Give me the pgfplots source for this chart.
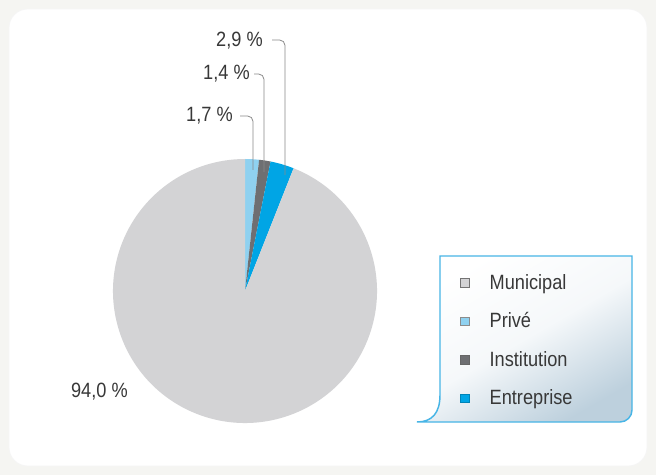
\documentclass[border=0pt]{standalone}
\usepackage{fontspec}
\setmainfont{Liberation Sans}[FakeStretch=0.88]
\usepackage{pgfplots}
\pgfplotsset{compat=1.18}
\usepackage{pgfplotstable}
\definecolor{municipal}{HTML}{D3D3D5}
\definecolor{prive}{HTML}{8FD1F0}
\definecolor{institution}{HTML}{6E6F72}
\definecolor{entreprise}{HTML}{00A5E5}
\definecolor{legline}{HTML}{47B5E6}
\definecolor{leader}{HTML}{8A8A8A}
\definecolor{txt}{HTML}{383838}
\definecolor{bg}{HTML}{F5F5F2}
\definecolor{legshade}{HTML}{BDD0DD}

\pgfplotstableread{
name value
Prive 1.7
Institution 1.4
Entreprise 2.9
Municipal 94.0
}\pietable

\begin{document}
\begin{tikzpicture}
\pgfplotstablegetelem{0}{value}\of\pietable \let\vA\pgfplotsretval
\pgfplotstablegetelem{1}{value}\of\pietable \let\vB\pgfplotsretval
\pgfplotstablegetelem{2}{value}\of\pietable \let\vC\pgfplotsretval
\pgfplotstablegetelem{3}{value}\of\pietable \let\vD\pgfplotsretval
\pgfmathsetmacro\aA{90}
\pgfmathsetmacro\aB{\aA-3.6*\vA}
\pgfmathsetmacro\aC{\aB-3.6*\vB}
\pgfmathsetmacro\aD{\aC-3.6*\vC}
\pgfmathsetmacro\aE{\aD-3.6*\vD}
\pgfkeys{/pgf/number format/.cd, fixed, fixed zerofill, precision=1, use comma, assume math mode=true}
\begin{axis}[
  hide axis, scale only axis,
  width=492pt, height=356.25pt,
  xmin=0, xmax=656, ymin=0, ymax=475,
  clip=false,
  legend cell align=left,
  legend style={draw=none, fill=none, inner sep=0pt, outer sep=0pt,
    at={(axis cs:460,135.5)}, anchor=west,
    font=\fontsize{15.5}{18}\selectfont, text=txt,
    row sep=17.9pt,
    nodes={inner sep=0pt, text height=11pt, text depth=0pt, anchor=base west}},
  legend image code/.code={\draw[#1, line width=0.5pt] (0pt,1.5pt) rectangle (6.5pt,8pt); \path[draw=none, fill=none] (0pt,0pt) -- (22pt,0pt);},
]
% background card
\fill[bg] (axis cs:0,0) rectangle (axis cs:656,475);
\fill[white, draw=black!4, line width=0.6pt, rounded corners=14pt] (axis cs:9,9) rectangle (axis cs:647,466);

% pie slices (clockwise from top)
\fill[prive] (axis cs:245,184) -- ++(\aA:99pt) arc[start angle=\aA, end angle=\aB, radius=99pt] -- cycle;
\fill[institution] (axis cs:245,184) -- ++(\aB:99pt) arc[start angle=\aB, end angle=\aC, radius=99pt] -- cycle;
\fill[entreprise] (axis cs:245,184) -- ++(\aC:99pt) arc[start angle=\aC, end angle=\aD, radius=99pt] -- cycle;
\fill[municipal] (axis cs:245,184) -- ++(\aD:99pt) arc[start angle=\aD, end angle=\aE, radius=99pt] -- cycle;

% leader lines
\draw[leader, line width=0.6pt, rounded corners=4pt] (axis cs:253,305) |- (axis cs:240,359);
\draw[leader, line width=0.6pt, rounded corners=4pt] (axis cs:264,303) |- (axis cs:254,401);
\draw[leader, line width=0.6pt, rounded corners=4pt] (axis cs:285,300) |- (axis cs:272,435);

% value labels
\node[anchor=base east, inner sep=0pt, text=txt, font=\fontsize{15.5}{18}\selectfont] at (axis cs:233,353) {\pgfmathprintnumber{\vA} \%};
\node[anchor=base east, inner sep=0pt, text=txt, font=\fontsize{15.5}{18}\selectfont] at (axis cs:250,395) {\pgfmathprintnumber{\vB} \%};
\node[anchor=base east, inner sep=0pt, text=txt, font=\fontsize{15.5}{18}\selectfont] at (axis cs:263,428) {\pgfmathprintnumber{\vC} \%};
\node[anchor=base east, inner sep=0pt, text=txt, font=\fontsize{15.5}{18}\selectfont] at (axis cs:128,78) {\pgfmathprintnumber{\vD} \%};

% legend box
\shade[top color=white, bottom color=legshade, middle color=white!85!legshade, shading angle=30]
  (axis cs:440,219) -- (axis cs:632,219) [rounded corners=9pt] -- (axis cs:632,53) [sharp corners] -- (axis cs:417,53)
  .. controls (axis cs:432,53) and (axis cs:440,62) .. (axis cs:440,80) -- cycle;
\draw[legline, line width=1.1pt]
  (axis cs:440,219) -- (axis cs:632,219) [rounded corners=9pt] -- (axis cs:632,53) [sharp corners] -- (axis cs:417,53)
  .. controls (axis cs:432,53) and (axis cs:440,62) .. (axis cs:440,80) -- cycle;

\addlegendimage{fill=municipal, draw=black!55}
\addlegendentry{Municipal}
\addlegendimage{fill=prive, draw=black!45}
\addlegendentry{Privé}
\addlegendimage{fill=institution, draw=black!60}
\addlegendentry{Institution}
\addlegendimage{fill=entreprise, draw=entreprise!80!black}
\addlegendentry{Entreprise}
\end{axis}
\end{tikzpicture}
\end{document}
